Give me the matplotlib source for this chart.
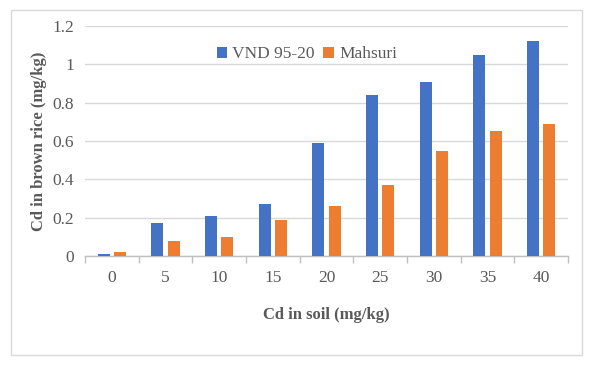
import matplotlib
matplotlib.use("Agg")
import matplotlib.pyplot as plt
import numpy as np
from matplotlib.patches import Rectangle

categories = ["0", "5", "10", "15", "20", "25", "30", "35", "40"]
vnd = [0.01, 0.17, 0.21, 0.27, 0.59, 0.84, 0.91, 1.05, 1.12]
mahsuri = [0.02, 0.08, 0.10, 0.19, 0.26, 0.37, 0.55, 0.65, 0.69]
series_names = ["VND 95-20", "Mahsuri"]
yticks = [0, 0.2, 0.4, 0.6, 0.8, 1, 1.2]
ytick_labels = ["0", "0.2", "0.4", "0.6", "0.8", "1", "1.2"]

plt.rcParams['font.family'] = ['Liberation Serif', 'DejaVu Serif']

W, H = 592, 365
fig = plt.figure(figsize=(W / 100, H / 100), dpi=100)
fig.patch.set_facecolor("white")

# outer chart border
fig.patches.append(Rectangle((11 / W, 1 - 355 / H), (582 - 11) / W, (355 - 10) / H,
                             transform=fig.transFigure, fill=False,
                             edgecolor="#D9D9D9", linewidth=1.0))

ax = fig.add_axes([85 / W, 1 - 256 / H, (568 - 85) / W, (256 - 26) / H])
x = np.arange(len(categories))
bw = 0.225
off = 0.15
ax.bar(x - off, vnd, width=bw, color="#4472C4", label=series_names[0], zorder=3)
ax.bar(x + off, mahsuri, width=bw, color="#ED7D31", label=series_names[1], zorder=3)

ax.set_xlim(-0.5, len(categories) - 0.5)
ax.set_ylim(0, 1.2)
ax.set_yticks(yticks)
ax.set_yticklabels(ytick_labels)
ax.set_xticks(x)
ax.set_xticklabels(categories)
ax.set_xticks(np.arange(len(categories) + 1) - 0.5, minor=True)

ax.grid(axis="y", color="#D9D9D9", linewidth=1.0, zorder=0)
for s in ["top", "right", "left"]:
    ax.spines[s].set_visible(False)
ax.spines["bottom"].set_color("#BFBFBF")
ax.spines["bottom"].set_linewidth(1.0)

ax.tick_params(axis="y", length=0, pad=8, labelsize=12.5, labelcolor="#595959")
ax.tick_params(axis="x", which="major", length=0, pad=10, labelsize=12.5, labelcolor="#595959")
ax.tick_params(axis="x", which="minor", length=5, color="#BFBFBF", width=1.0)

ax.set_xlabel("Cd in soil (mg/kg)", fontsize=12, fontweight="bold", color="#595959", labelpad=15)
ax.set_ylabel("Cd in brown rice (mg/kg)", fontsize=12, fontweight="bold", color="#595959", labelpad=4)

leg = ax.legend(loc="upper left", bbox_to_anchor=(0.24, 0.98), ncol=2, frameon=False,
                fontsize=12.5, handlelength=0.6, handleheight=0.6, handletextpad=0.3,
                columnspacing=0.5)
for t in leg.get_texts():
    t.set_color("#595959")

fig.savefig("out.png", dpi=100, facecolor="white")
